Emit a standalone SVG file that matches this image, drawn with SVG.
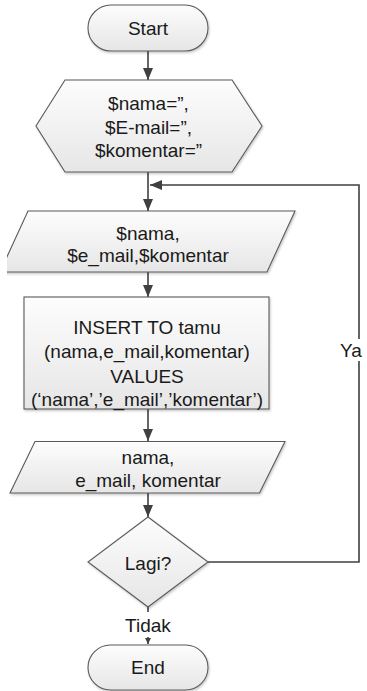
<svg xmlns="http://www.w3.org/2000/svg" width="367" height="691" viewBox="0 0 367 691">
<style>
.n{fill:url(#g);stroke:#5a5a5a;stroke-width:1.1;filter:url(#sh)}
.t{font-family:"Liberation Sans",Arial,sans-serif;font-size:19px;fill:#1a1a1a;text-anchor:middle}
.c{fill:none;stroke:#404040;stroke-width:1.6}
</style>
<defs>
<linearGradient id="g" x1="0" y1="0" x2="0" y2="1">
<stop offset="0" stop-color="#fdfdfd"/>
<stop offset="1" stop-color="#e6e6e6"/>
</linearGradient>
<filter id="sh" x="-10%" y="-10%" width="120%" height="130%">
<feDropShadow dx="1" dy="1.5" stdDeviation="1" flood-color="#000" flood-opacity="0.22"/>
</filter>
<clipPath id="clipL"><rect x="7" y="0" width="360" height="691"/></clipPath>
<marker id="ah" viewBox="0 0 12 10" refX="12" refY="5" markerWidth="12" markerHeight="10" markerUnits="userSpaceOnUse" orient="auto">
<path d="M0,0 L12,5 L0,10 Z" fill="#404040"/>
</marker>
<marker id="ahs" viewBox="0 0 6 6" refX="6" refY="3" markerWidth="6" markerHeight="6" markerUnits="userSpaceOnUse" orient="auto">
<path d="M0,0 L6,3 L0,6 Z" fill="#404040"/>
</marker>
</defs>
<rect width="367" height="691" fill="#fff"/>
<g id="connectors">
<path class="c" d="M148,51 V80" marker-end="url(#ah)"/>
<path class="c" d="M148,172 V211" marker-end="url(#ah)"/>
<path class="c" d="M148,272 V297" marker-end="url(#ah)"/>
<path class="c" d="M148,409 V441" marker-end="url(#ah)"/>
<path class="c" d="M148,493 V517" marker-end="url(#ah)"/>
<path class="c" d="M208,562 H359 V185 H150" marker-end="url(#ah)"/>
<path class="c" d="M148,606 V644" marker-end="url(#ahs)"/>
<rect x="340" y="339" width="24" height="22" fill="#fff"/>
<text class="t" x="351" y="357">Ya</text>
<rect x="124" y="612" width="48" height="25" fill="#fff"/>
<text class="t" x="148" y="632">Tidak</text>
</g>
<g id="start">
<rect class="n" x="88" y="5" width="120" height="46" rx="23"/>
<text class="t" x="148" y="34.5">Start</text>
</g>
<g id="init">
<polygon class="n" points="65,80 232,80 262,126 232,172 65,172 36,126"/>
<text class="t" x="148.5" y="109.5">$nama=”,</text>
<text class="t" x="148.5" y="133.5">$E-mail=”,</text>
<text class="t" x="148.5" y="157">$komentar=”</text>
</g>
<g id="input" clip-path="url(#clipL)">
<polygon class="n" points="28,211 295,211 267,272 0,272"/>
<text class="t" x="148" y="240">$nama,</text>
<text class="t" x="148" y="262">$e_mail,$komentar</text>
</g>
<g id="insert">
<rect class="n" x="24" y="297" width="245" height="112"/>
<text class="t" x="147" y="333.5">INSERT TO tamu</text>
<text class="t" x="147" y="357.5">(nama,e_mail,komentar)</text>
<text class="t" x="147" y="382.5">VALUES</text>
<text class="t" x="147" y="406">(‘nama’,’e_mail’,’komentar’)</text>
</g>
<g id="output">
<polygon class="n" points="35,441.5 285,441.5 259.5,493 10,493"/>
<text class="t" x="148" y="463.5">nama,</text>
<text class="t" x="148" y="486.5">e_mail, komentar</text>
</g>
<g id="decision">
<polygon class="n" points="148,517 208,562 148,607 88,562"/>
<text class="t" x="148" y="570">Lagi?</text>
</g>
<g id="end">
<rect class="n" x="88" y="645" width="120" height="45" rx="22.5"/>
<text class="t" x="148" y="673.5">End</text>
</g>
</svg>
